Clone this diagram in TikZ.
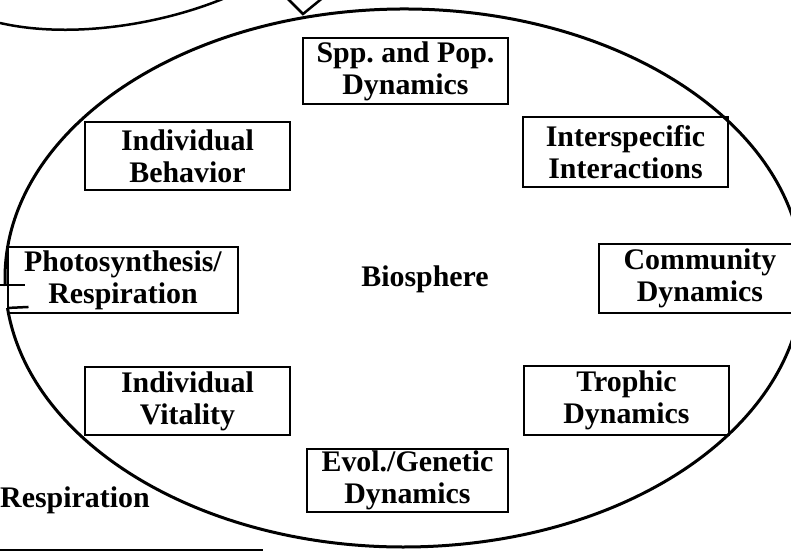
\documentclass[tikz,border=0pt]{standalone}
\usepackage{fontspec}
\setmainfont{Liberation Serif}
\frenchspacing

\begin{document}
\begin{tikzpicture}[x=1bp,y=1bp,
  topic/.style={rectangle,draw=black,line width=2bp,align=center,inner sep=0pt,
    minimum width=205bp,minimum height=68bp,font=\fontsize{30}{32}\selectfont\bfseries},
  freetext/.style={inner sep=0pt,font=\fontsize{30}{32}\selectfont\bfseries}
]

\useasboundingbox (0,0) rectangle (791,551);
\clip (0,0) rectangle (791,551);

\draw[line width=2.5bp] (0,528) .. controls (70,512) and (160,526) .. (225,553);
\draw[line width=2.5bp] (285,555) -- (303,537) -- (325,555);

\draw[line width=3bp] (404,273) ++(186.4:399 and 269) coordinate (gaplow)
  arc[start angle=186.4,end angle=541.7,x radius=399,y radius=269] coordinate (gaptop);
\draw[line width=2.5bp] (gaplow) -- ++(21,1);
\draw[line width=2.5bp] (0,266) -- (25,266);

\node[topic,minimum height=66bp] (spp) at (405.5,480) {Spp. and Pop.\\Dynamics};
\node[topic] (behav) at (187.5,395) {Individual\\Behavior};
\node[topic,minimum height=70bp] (inter) at (625.5,399) {Interspecific\\Interactions};
\node[topic,minimum width=230bp,minimum height=66bp] (photo) at (123,271) {Photosynthesis/\\Respiration};
\node[freetext] (bio) at (425,272) {Biosphere};
\node[topic,minimum width=202bp,minimum height=69bp] (comm) at (700,272.5) {Community\\Dynamics};
\node[topic] (vital) at (187.5,150) {Individual\\Vitality};
\node[topic,minimum height=69bp] (troph) at (626.5,150.5) {Trophic\\Dynamics};
\node[topic,minimum width=201bp,minimum height=63bp] (evol) at (407.5,70.5) {Evol./Genetic\\Dynamics};

\node[freetext,anchor=base west] (resp) at (0,43) {Respiration};
\draw[line width=2bp] (0,1) -- (263,1);

\end{tikzpicture}
\end{document}
